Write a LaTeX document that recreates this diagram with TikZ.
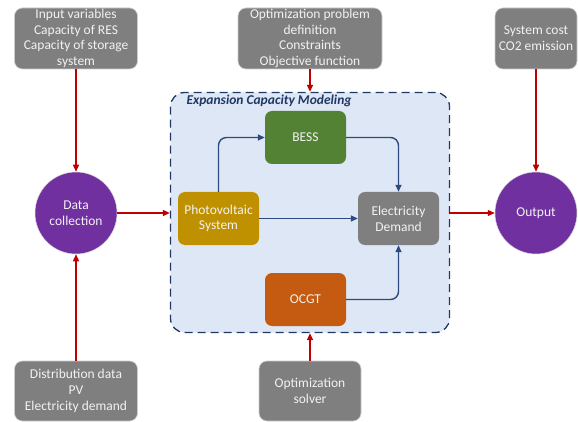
\documentclass[tikz,border=0pt]{standalone}
\usepackage{fontspec}
\setmainfont{Carlito}
\usetikzlibrary{arrows.meta}
\definecolor{boxgray}{HTML}{7F7F7F}
\definecolor{dcpurple}{HTML}{7030A0}
\definecolor{bessgreen}{HTML}{548235}
\definecolor{pvgold}{HTML}{BF9000}
\definecolor{ocgtorange}{HTML}{C55A11}
\definecolor{contfill}{HTML}{DEE7F5}
\definecolor{contline}{HTML}{203864}
\definecolor{redline}{HTML}{C00000}
\definecolor{blueline}{HTML}{2F4A80}
\definecolor{lighttext}{HTML}{F2F2F2}
\begin{document}
\begin{tikzpicture}[x=1pt,y=-1pt,
  txt/.style={font=\fontsize{13.5}{15.8}\selectfont, text=lighttext, align=center},
  gbox/.style={txt, draw=white!80!black, line width=0.6pt, fill=boxgray, rounded corners=8pt, inner sep=0pt},
  ibox/.style={txt, fill=#1, rounded corners=7pt, inner sep=0pt, minimum width=81pt, minimum height=53pt},
  circ/.style={txt, circle, fill=dcpurple, draw=white!85!black, line width=0.5pt, minimum size=82pt, inner sep=0pt},
  redarr/.style={draw=redline, line width=1.4pt, -{Triangle[length=7pt,width=6pt]}},
  bluearr/.style={draw=blueline, line width=1.4pt, rounded corners=8pt, -{Triangle[length=7pt,width=6pt]}}
]
\useasboundingbox (0,0) rectangle (578,422);

% container
\node[draw=contline, fill=contfill, line width=1.3pt, dash pattern=on 8pt off 5pt,
      rounded corners=14pt, minimum width=279pt, minimum height=240pt, inner sep=0pt]
      (cont) at (310,212.5) {};
\node[anchor=west, text=contline, font=\fontsize{13.5}{15}\selectfont\bfseries\itshape]
      (title) at (183,101) {Expansion Capacity Modeling};

% outer boxes
\node[gbox, minimum width=123pt, minimum height=61pt] (in1) at (76,38.5)
  {Input variables\\Capacity of RES\\Capacity of storage\\system};
\node[gbox, minimum width=144pt, minimum height=61pt] (opt) at (310,38.5)
  {Optimization problem\\definition\\Constraints\\Objective function};
\node[gbox, minimum width=82pt, minimum height=61pt] (sys) at (536,38.5)
  {System cost\\CO2 emission};
\node[gbox, minimum width=123pt, minimum height=60pt] (dist) at (76,391)
  {Distribution data\\PV\\Electricity demand};
\node[gbox, minimum width=102pt, minimum height=60pt] (solver) at (310,391)
  {Optimization\\solver};

% circles
\node[circ] (dc) at (76,213) {Data\\collection};
\node[circ] (out) at (536,213) {Output};

% inner boxes
\node[ibox=bessgreen] (bess) at (305.5,137.5) {BESS};
\node[ibox=pvgold] (pv) at (218.5,218.5) {Photovoltaic\\System};
\node[ibox=boxgray] (ed) at (398.5,218.5) {Electricity\\Demand};
\node[ibox=ocgtorange] (ocgt) at (305.5,299.5) {OCGT};

% red arrows
\draw[redarr] (in1.south) -- (dc.north);
\draw[redarr] (dist.north) -- (dc.south);
\draw[redarr] (dc.east) -- (dc.east -| cont.west);
\draw[redarr] (opt.south) -- (cont.north);
\draw[redarr] (solver.north) -- (cont.south);
\draw[redarr] (cont.east |- out.west) -- (out.west);
\draw[redarr] (sys.south) -- (out.north);

% blue arrows
\draw[bluearr] (pv.north) |- (bess.west);
\draw[bluearr] (bess.east) -| (ed.north);
\draw[bluearr] (pv.east) -- (ed.west);
\draw[bluearr] (ocgt.east) -| (ed.south);
\end{tikzpicture}
\end{document}
